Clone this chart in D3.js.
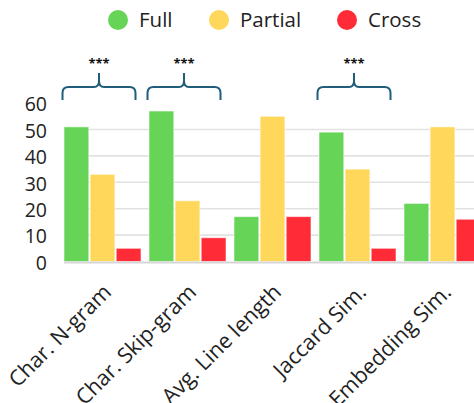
<!DOCTYPE html>
<html>
<head>
<meta charset="utf-8">
<script src="https://cdn.jsdelivr.net/npm/d3@7"></script>
<style>
  html, body { margin: 0; padding: 0; background: #fff; }
  svg { display: block; font-family: "Open Sans", "Noto Sans", sans-serif; }
</style>
</head>
<body>
<svg id="chart" width="474" height="403"></svg>
<script>
// Feature categories and counts per match type
const categories = ["Char. N-gram", "Char. Skip-gram", "Avg. Line length", "Jaccard Sim.", "Embedding Sim."];
const seriesNames = ["Full", "Partial", "Cross"];
const fullValues = [51, 57, 17, 49, 22];
const partialValues = [33, 23, 55, 35, 51];
const crossValues = [5, 9, 17, 5, 16];
const yTicks = [0, 10, 20, 30, 40, 50, 60];
// Categories marked with a significance bracket
const significant = ["Char. N-gram", "Char. Skip-gram", "Jaccard Sim."];
const sigLabel = "***";

const colors = ["#66d457", "#ffd75b", "#ff2b36"];
const seriesValues = [fullValues, partialValues, crossValues];

const svg = d3.select("#chart");

const x0 = d3.scaleBand().domain(categories).range([64, 481]).paddingInner(8 / 85).paddingOuter(0);
const x1 = d3.scaleBand().domain(seriesNames).range([0, x0.bandwidth()]).paddingInner(0.05);
const y = d3.scaleLinear().domain([0, 60]).range([261.5, 103.1]);

// Gridlines
svg.append("g")
  .selectAll("line")
  .data(yTicks.filter(t => t > 0 && t < 60))
  .join("line")
  .attr("x1", 64).attr("x2", 474)
  .attr("y1", d => y(d)).attr("y2", d => y(d))
  .attr("stroke", "#e2e2e2").attr("stroke-width", 1.6);

// Y axis labels
const yAxis = d3.axisLeft(y).tickValues(yTicks).tickSize(0).tickPadding(0);
const yg = svg.append("g").attr("transform", "translate(47,1.5)").call(yAxis);
yg.select(".domain").remove();
yg.selectAll("text").attr("font-size", 19.5).attr("fill", "#222")
  .attr("font-family", "'Open Sans', 'Noto Sans', sans-serif");

// Bars
const groups = svg.append("g")
  .selectAll("g")
  .data(categories)
  .join("g")
  .attr("transform", d => `translate(${x0(d)},0)`);

groups.selectAll("rect")
  .data((d, i) => seriesNames.map((s, j) => ({ s, v: seriesValues[j][i], c: colors[j] })))
  .join("rect")
  .attr("x", d => x1(d.s))
  .attr("width", x1.bandwidth())
  .attr("y", d => y(d.v))
  .attr("height", d => y(0) - y(d.v))
  .attr("fill", d => d.c)
  .attr("stroke", "rgba(255,255,255,0.55)")
  .attr("stroke-width", 1);

// Baseline
svg.append("line")
  .attr("x1", 64).attr("x2", 474)
  .attr("y1", y(0) + 1).attr("y2", y(0) + 1)
  .attr("stroke", "#d6d6d6").attr("stroke-width", 2);

// X axis labels, rotated
const xAxis = d3.axisBottom(x0).tickSize(0).tickPadding(0);
const xg = svg.append("g").attr("transform", `translate(0,${y(0)})`).call(xAxis);
xg.select(".domain").remove();
xg.selectAll("text")
  .attr("font-size", 21.5).attr("fill", "#222")
  .attr("font-family", "'Open Sans', 'Noto Sans', sans-serif")
  .attr("text-anchor", "end")
  .attr("dy", null).attr("y", null)
  .attr("transform", "translate(10,32) rotate(-45)");

// Significance brackets
const bracketColor = "#1f5d7a";
const br = svg.append("g")
  .selectAll("g")
  .data(significant)
  .join("g")
  .attr("transform", d => `translate(${x0(d) + x0.bandwidth() / 2 - 3.5},0)`);

const hw = 36.5, yEnd = 100, yBar = 87, yTip = 73;
br.append("path")
  .attr("d", `M${-hw},${yEnd} L${-hw},${yBar + 6} Q${-hw},${yBar} ${-hw + 6},${yBar} L-5,${yBar} Q0,${yBar} 0,${yBar - 6} L0,${yTip} ` +
             `M0,${yBar - 6} Q0,${yBar} 5,${yBar} L${hw - 6},${yBar} Q${hw},${yBar} ${hw},${yBar + 6} L${hw},${yEnd}`)
  .attr("fill", "none")
  .attr("stroke", bracketColor)
  .attr("stroke-width", 2);

br.append("text")
  .attr("x", 0).attr("y", 68)
  .attr("text-anchor", "middle")
  .attr("font-size", 13).attr("font-weight", "bold").attr("fill", "#111")
  .text(sigLabel);

// Legend
const legendX = [118, 219, 347];
const lg = svg.append("g")
  .selectAll("g")
  .data(seriesNames)
  .join("g")
  .attr("transform", (d, i) => `translate(${legendX[i]},20)`);
lg.append("circle").attr("r", 10).attr("fill", (d, i) => colors[i]);
lg.append("text")
  .attr("x", 21).attr("y", 7)
  .attr("font-size", 20.5).attr("fill", "#222")
  .text(d => d);
</script>
</body>
</html>
